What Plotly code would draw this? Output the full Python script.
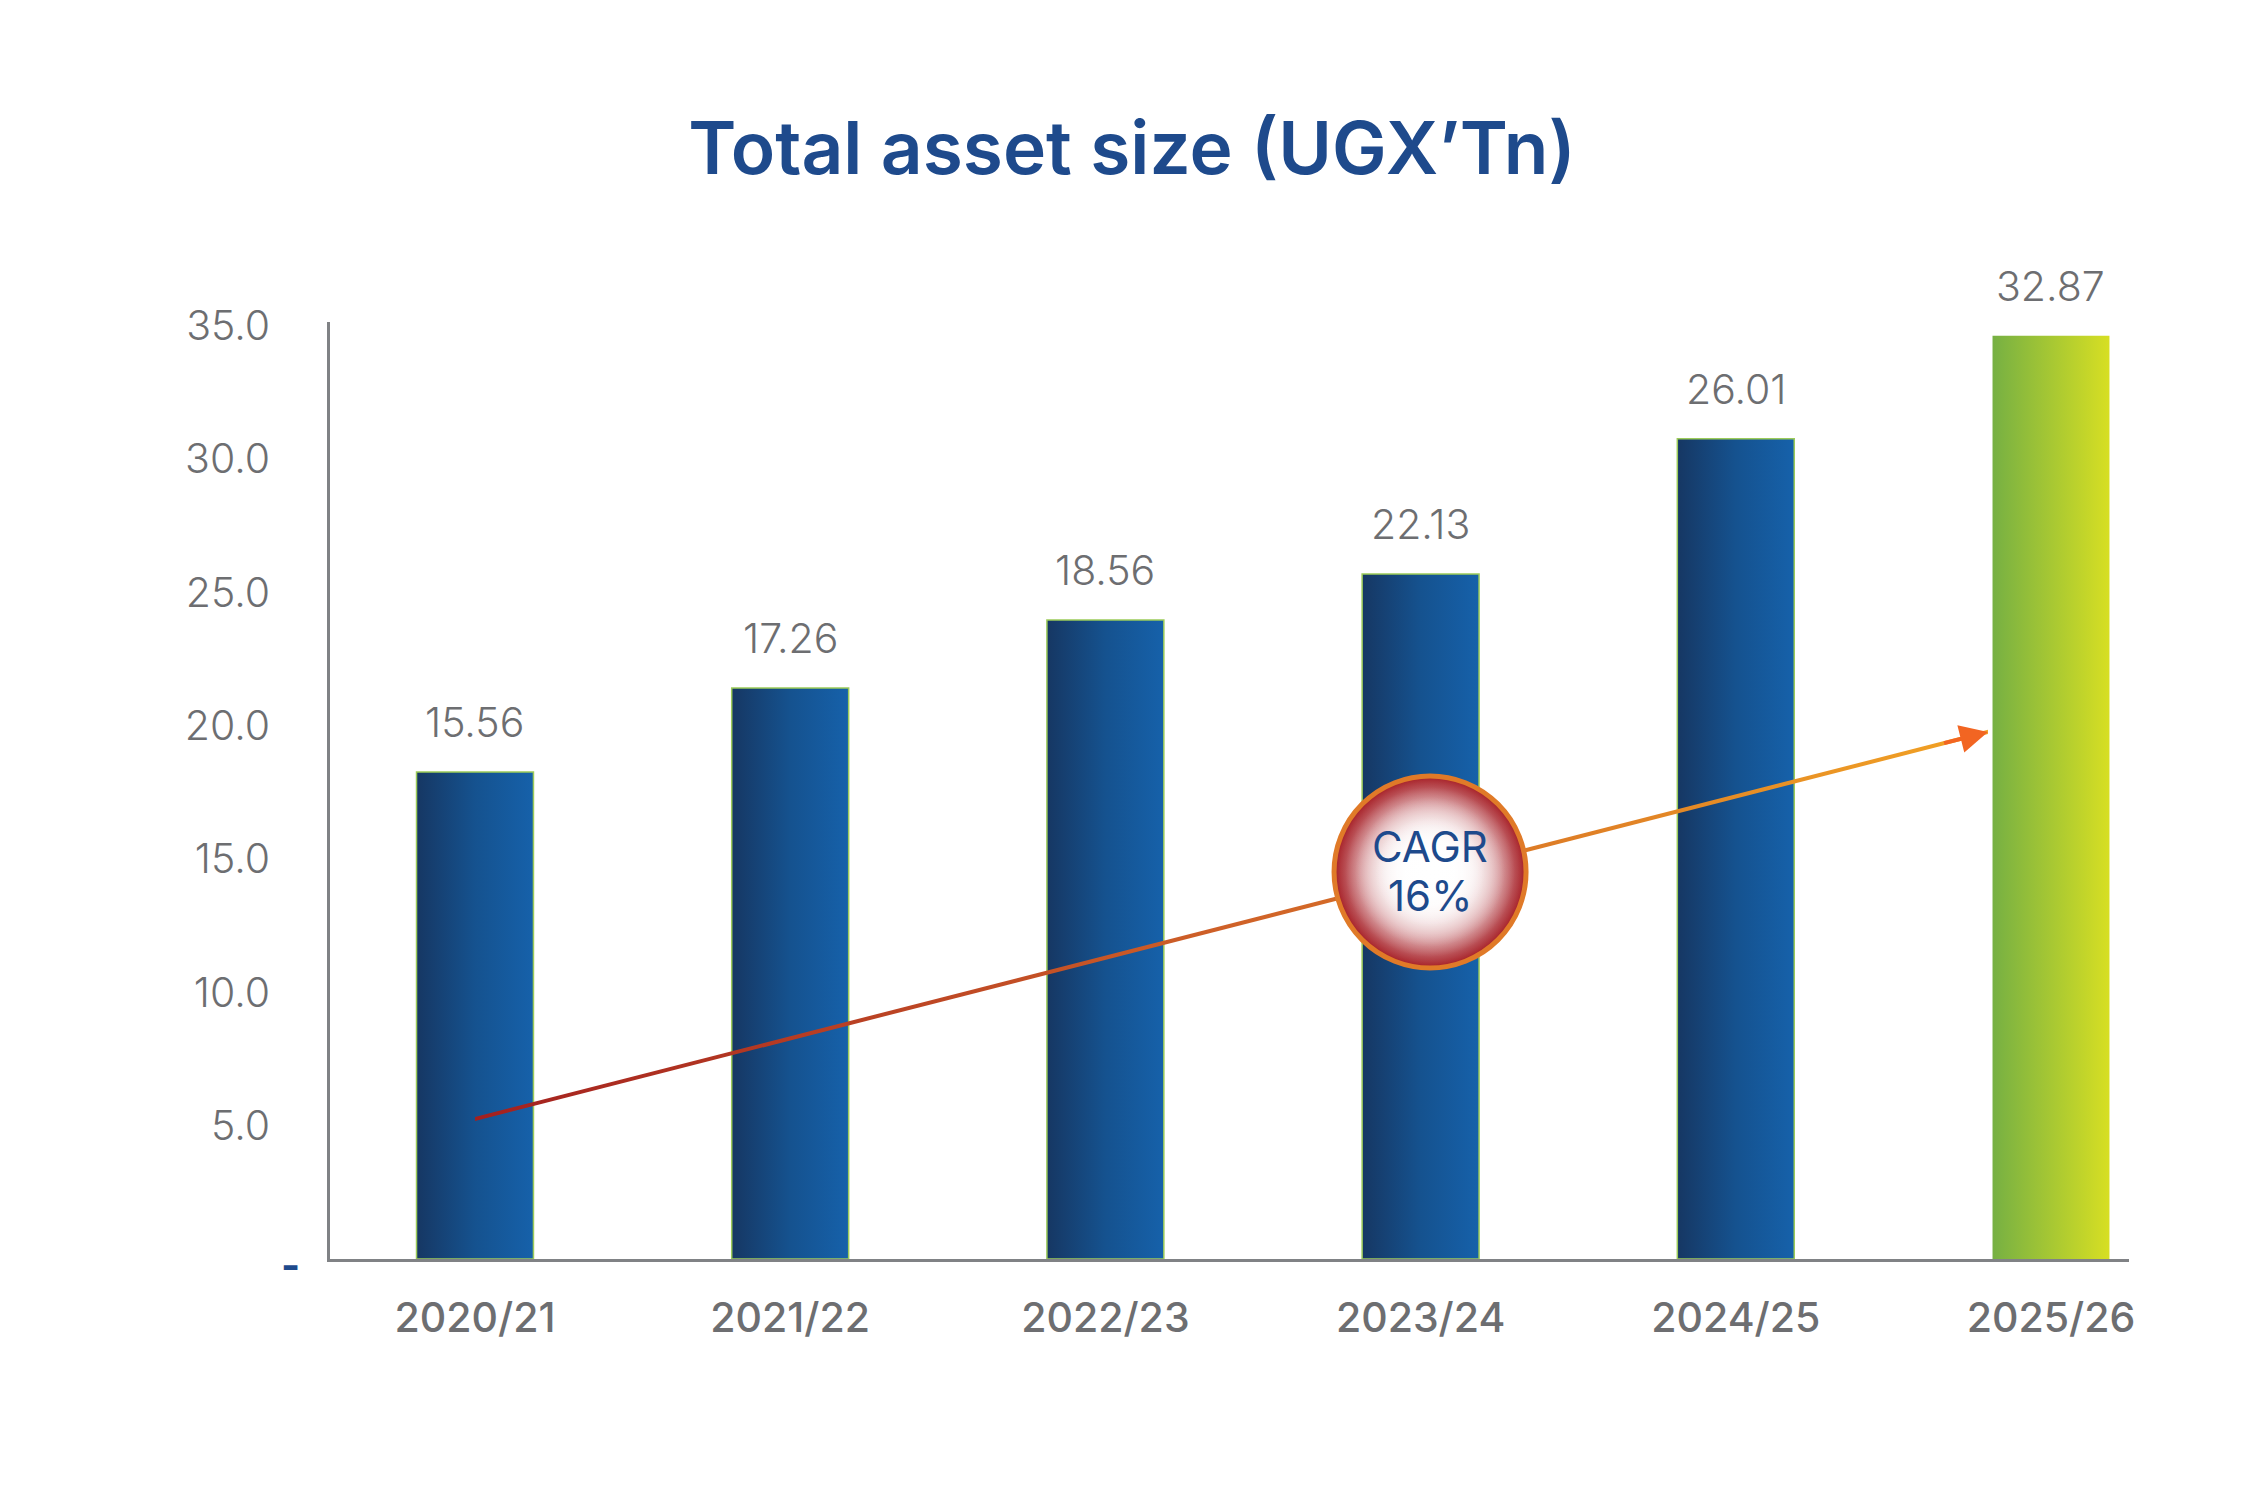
import plotly.graph_objects as go

# data
categories = ["2020/21", "2021/22", "2022/23", "2023/24", "2024/25", "2025/26"]
bar_heights = [18.26, 21.41, 23.96, 25.68, 30.75, 34.61]
value_labels = ["15.56", "17.26", "18.56", "22.13", "26.01", "32.87"]
y_tick_vals = [5, 10, 15, 20, 25, 30, 35]
y_tick_text = ["5.0", "10.0", "15.0", "20.0", "25.0", "30.0", "35.0"]
cagr_lines = ["CAGR", "16%"]
trend_start = [0.0, 5.25]
trend_end = [4.80, 19.76]
badge_xy = [3.03, 14.51]

FONT = "Inter"
GREY = "#6d6e71"
NAVY = "#1e4a8c"
BAR_WIDTH = 0.371
BLUE_SCALE = [[0, "#163763"], [0.5, "#15528f"], [1, "#1661aa"]]
GREEN_SCALE = [[0, "#76b043"], [1, "#d7df23"]]
TREND_SCALE = [[0, "#a3201f"], [0.5, "#cf6128"], [1, "#f2a324"]]
LINE_HALF = 0.078  # half thickness of the trend line, y units

fig = go.Figure()

# bars drawn as filled shapes so they can carry a horizontal gradient
for i, h in enumerate(bar_heights):
    last = i == len(bar_heights) - 1
    x0, x1 = i - BAR_WIDTH / 2, i + BAR_WIDTH / 2
    fig.add_trace(
        go.Scatter(
            x=[x0, x1, x1, x0, x0],
            y=[0, 0, h, h, 0],
            mode="lines",
            fill="toself",
            fillgradient=dict(
                type="horizontal",
                colorscale=GREEN_SCALE if last else BLUE_SCALE,
            ),
            line=dict(color="#9ccb5a", width=0 if last else 1.5),
            hoverinfo="skip",
            showlegend=False,
        )
    )

# trend line, a thin band with a red -> orange gradient
(sx, sy), (ex, ey) = trend_start, trend_end
fig.add_trace(
    go.Scatter(
        x=[sx, ex, ex, sx, sx],
        y=[sy - LINE_HALF, ey - LINE_HALF, ey + LINE_HALF, sy + LINE_HALF, sy - LINE_HALF],
        mode="lines",
        fill="toself",
        fillgradient=dict(type="horizontal", colorscale=TREND_SCALE),
        line=dict(width=0),
        hoverinfo="skip",
        showlegend=False,
    )
)

# CAGR badge: red rim fading to a white centre
badge_layers = [
    (192, "#a8232a", dict(color="#e07a28", width=5)),
    (186, "rgba(255,255,255,0)", dict(width=0)),
    (170, "rgba(255,255,255,0)", dict(width=0)),
    (150, "rgba(255,255,255,0)", dict(width=0)),
    (110, "rgba(255,255,255,0)", dict(width=0)),
]
for size, colour, rim in badge_layers:
    fig.add_trace(
        go.Scatter(
            x=[badge_xy[0]],
            y=[badge_xy[1]],
            mode="markers",
            marker=dict(
                size=size,
                color=colour,
                gradient=dict(type="radial", color="white"),
                line=rim,
            ),
            hoverinfo="skip",
            showlegend=False,
        )
    )

# arrow head at the end of the trend line
t = 0.97
fig.add_annotation(
    x=ex, y=ey, xref="x", yref="y",
    ax=sx + (ex - sx) * t, ay=sy + (ey - sy) * t, axref="x", ayref="y",
    text="", showarrow=True, arrowhead=2, arrowsize=1.4, arrowwidth=4,
    arrowcolor="#f26522", standoff=0,
)

for k, txt in enumerate(cagr_lines):
    fig.add_annotation(
        x=badge_xy[0], y=badge_xy[1], xref="x", yref="y",
        text=txt, showarrow=False, yshift=25 - 49 * k,
        font=dict(family=FONT, size=42, color=NAVY, weight=400),
    )

# value labels above the bars
for i, (h, lab) in enumerate(zip(bar_heights, value_labels)):
    fig.add_annotation(
        x=i, y=h, xref="x", yref="y", text=lab, showarrow=False,
        yanchor="middle", yshift=50,
        font=dict(family=FONT, size=41, color=GREY, weight=300),
    )

# zero label shown as a dash
fig.add_annotation(
    x=0, y=0, xref="paper", yref="y", text="-", showarrow=False,
    xanchor="right", xshift=-28, yshift=-6,
    font=dict(family=FONT, size=41, color=NAVY, weight=700),
)

fig.update_layout(
    width=2268,
    height=1502,
    margin=dict(l=322, r=147, t=314, b=251),
    paper_bgcolor="white",
    plot_bgcolor="white",
    title=dict(
        text="Total asset size (UGX’Tn)",
        x=0.4956, xref="container", xanchor="center",
        y=1 - 140 / 1502, yref="container", yanchor="middle",
        font=dict(family=FONT, size=73, color=NAVY, weight=600),
    ),
    xaxis=dict(
        range=[-0.46, 5.2475],
        tickmode="array",
        tickvals=list(range(len(categories))),
        ticktext=categories,
        showline=True, linecolor="#808285", linewidth=2.5,
        showgrid=False, zeroline=False, ticks="",
        ticklabelstandoff=21,
        tickfont=dict(family=FONT, size=41, color=GREY, weight=500),
    ),
    yaxis=dict(
        range=[0, 35.13],
        tickmode="array",
        tickvals=y_tick_vals,
        ticktext=y_tick_text,
        showline=True, linecolor="#808285", linewidth=2.5,
        showgrid=False, zeroline=False, ticks="",
        ticklabelstandoff=49,
        tickfont=dict(family=FONT, size=41, color=GREY, weight=300),
    ),
)

fig.write_html("out.html")
